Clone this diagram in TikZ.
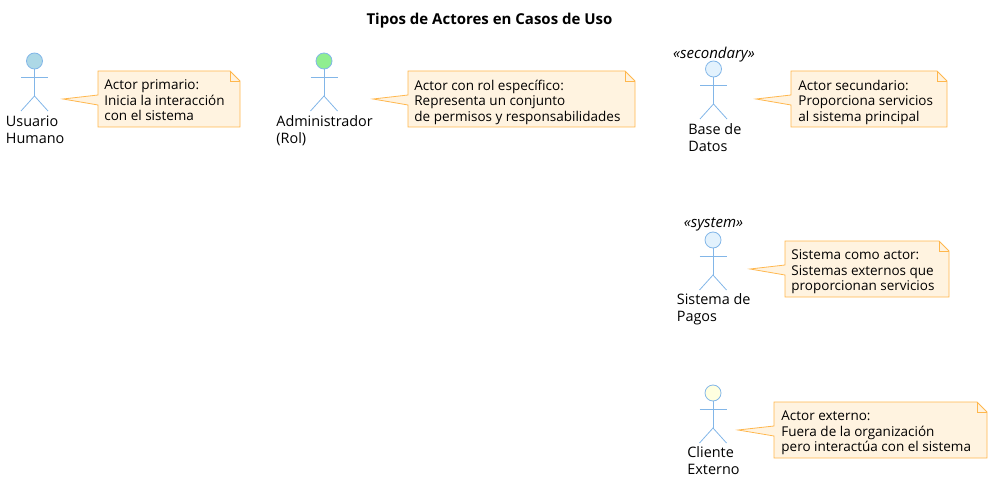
\documentclass[tikz,border=0pt]{standalone}
\usepackage{fontspec}
\setmainfont{Open Sans}
\definecolor{actorline}{HTML}{82B6E8}
\definecolor{notefill}{HTML}{FFF3E0}
\definecolor{noteline}{HTML}{FFB74D}
\definecolor{headone}{HTML}{ADD8E6}
\definecolor{headtwo}{HTML}{90EE90}
\definecolor{headthree}{HTML}{E3F2FD}
\definecolor{headfour}{HTML}{FFFFE0}
\tikzset{
  every path/.style={line width=0.8pt},
  notetext/.style={anchor=north west,inner sep=0pt,align=left,font=\fontsize{13.5}{15.5}\selectfont},
  actortext/.style={anchor=north west,inner sep=0pt,align=left,font=\fontsize{14.4}{17}\selectfont},
  stereotext/.style={inner sep=0pt,font=\fontsize{15}{17}\selectfont\itshape},
  actorhead/.style={circle,draw=actorline,inner sep=0pt,minimum size=16pt}
}
% name, x, y of head, colour
\newcommand{\actorfig}[4]{
  \node [actorhead,fill=#4] (#1) at (#2,#3) {};
  \coordinate (#1hip) at (#2,#3+35);
  \draw [actorline] (#1.south) -- (#1hip);
  \draw [actorline] (#2-13.5,#3+16) -- (#2+13.5,#3+16);
  \draw [actorline] (#2-13.5,#3+50) -- (#1hip) -- (#2+13.5,#3+50);
}
% name, left, top, right, tip x
\newcommand{\notefig}[5]{
  \coordinate (#1tip) at (#5,#3+28);
  \draw [noteline,fill=notefill] (#2,#3) -- (#4-10,#3) -- (#4,#3+10) -- (#4,#3+56) -- (#2,#3+56)
    -- (#2,#3+34) -- (#1tip) -- (#2,#3+24) -- cycle;
  \draw [noteline] (#4-10,#3) -- (#4-10,#3+10) -- (#4,#3+10);
}
\begin{document}
\begin{tikzpicture}[x=1pt,y=-1pt]
  \useasboundingbox (0,0) rectangle (992,481);
  \node [inner sep=0pt,font=\fontsize{15}{17}\selectfont\bfseries] (title) at (489.5,20.5) {Tipos de Actores en Casos de Uso};

  \actorfig{usuario}{34.5}{61}{headone}
  \node [actortext] (usuariolabel) at (5.5,115.5) {Usuario\\Humano};
  \notefig{notausuario}{98}{71}{240}{63}
  \node [notetext] (textousuario) at (104,79.5) {Actor primario:\\Inicia la interacción\\con el sistema};

  \actorfig{admin}{324}{61}{headtwo}
  \node [actortext] (adminlabel) at (276,115.5) {Administrador\\(Rol)};
  \notefig{notaadmin}{408}{71}{635}{373}
  \node [notetext] (textoadmin) at (414,79.5) {Actor con rol específico:\\Representa un conjunto\\de permisos y responsabilidades};

  \node [stereotext] (stereobase) at (714,54.5) {«secondary»};
  \actorfig{base}{713.5}{69}{headthree}
  \node [actortext] (baselabel) at (688,123.5) {Base de\\Datos};
  \notefig{notabase}{791}{71}{947}{756}
  \node [notetext] (textobase) at (798,79.5) {Actor secundario:\\Proporciona servicios\\al sistema principal};

  \node [stereotext] (stereosistema) at (713.5,224.5) {«system»};
  \actorfig{sistema}{713}{240}{headthree}
  \node [actortext] (sistemalabel) at (676.5,293.5) {Sistema de\\Pagos};
  \notefig{notasistema}{785}{241}{949}{750}
  \node [notetext] (textosistema) at (791,249.5) {Sistema como actor:\\Sistemas externos que\\proporcionan servicios};

  \actorfig{cliente}{713}{393}{headfour}
  \node [actortext] (clientelabel) at (687,446.5) {Cliente\\Externo};
  \notefig{notacliente}{774}{402}{987}{738}
  \node [notetext] (textocliente) at (781,410.5) {Actor externo:\\Fuera de la organización\\pero interactúa con el sistema};
\end{tikzpicture}
\end{document}
